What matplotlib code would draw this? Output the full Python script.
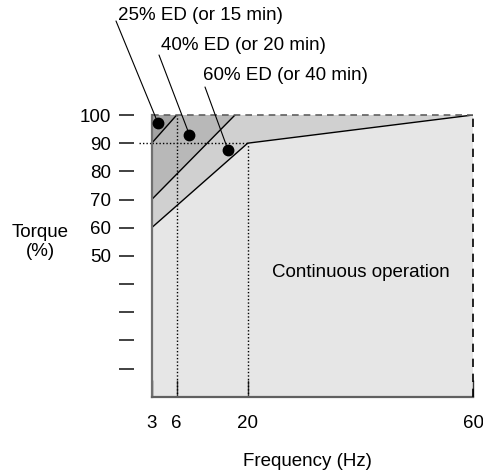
import matplotlib
matplotlib.use("Agg")
import matplotlib.pyplot as plt
import numpy as np
from matplotlib.scale import FuncScale

plt.rcParams['font.family'] = ['Liberation Sans', 'DejaVu Sans']
plt.rcParams['font.size'] = 13.5

# frequency axis is not linear in the original, tick positions (Hz)
freq_ticks = [3, 6, 20, 60]
torque_ticks = [10, 20, 30, 40, 50, 60, 70, 80, 90, 100]
torque_labels = ['', '', '', '', '50', '60', '70', '80', '90', '100']

# region boundaries (Hz, %)
cont_x = [3, 3, 20, 60, 60]
cont_y = [0, 60, 90, 100, 0]
ed60_x = [3, 20, 60, 17.5, 3]
ed60_y = [60, 90, 100, 100, 70]
ed40_x = [3, 17.5, 6, 3]
ed40_y = [70, 100, 100, 90]
ed25_x = [3, 6, 3]
ed25_y = [90, 100, 100]

labels = ['25% ED (or 15 min)', '40% ED (or 20 min)', '60% ED (or 40 min)']
dot_x = [3.73, 8.5, 16.1]
dot_y = [97.3, 93.0, 87.7]

# piecewise mapping of the frequency axis
hz_pts = np.array([3, 6, 20, 60])
pos_pts = np.array([0.0, 25.0, 96.0, 321.3])


def fwd(x):
    return np.interp(x, hz_pts, pos_pts)


def inv(p):
    return np.interp(p, pos_pts, hz_pts)


W, H = 483, 473
fig = plt.figure(figsize=(W / 100, H / 100), dpi=100)
ax = fig.add_axes([151.7 / W, 1 - 396.7 / H, 321.3 / W, 281.7 / H])
ax.set_xscale(FuncScale(ax, (fwd, inv)))
ax.set_xlim(3, 60)
ax.set_ylim(0, 100)

ax.fill(cont_x, cont_y, color='#e6e6e6', lw=0)
ax.fill(ed60_x, ed60_y, color='#d0d0d0', lw=0)
ax.fill(ed40_x, ed40_y, color='#b8b8b8', lw=0)
ax.fill(ed25_x, ed25_y, color='#a3a3a3', lw=0)

# boundaries
ax.plot([3, 20, 60], [60, 90, 100], color='black', lw=1)
ax.plot([3, 17.5], [70, 100], color='black', lw=1)
ax.plot([3, 6], [90, 100], color='black', lw=1)

# dotted guides
ax.plot([3, 20], [90, 90], color='black', lw=1, ls=(0, (1, 1.5)))
ax.plot([-0.04, 0], [90, 90], color='black', lw=1, ls=(0, (1, 1.5)),
        transform=ax.get_yaxis_transform(), clip_on=False)
ax.plot([6, 6], [0, 100], color='black', lw=1, ls=(0, (1, 1.5)))
ax.plot([20, 20], [0, 90], color='black', lw=1, ls=(0, (1, 1.5)))

# frame
for s in ax.spines.values():
    s.set_visible(False)
ax.plot([3, 3], [0, 100], color='#707070', lw=1.6, clip_on=False)
ax.plot([3, 60], [0, 0], color='#606060', lw=1.6, clip_on=False)
ax.plot([3, 60], [100, 100], color='#606060', lw=1.2, ls=(0, (4, 3)), clip_on=False)
ax.plot([60, 60], [0, 100], color='black', lw=1.2, ls=(0, (5, 4)), clip_on=False)

ax.spines['left'].set_position(('outward', 13))
ax.set_yticks(torque_ticks)
ax.set_yticklabels(torque_labels)
ax.tick_params(axis='y', direction='out', length=11, width=1.3, color='#333333', pad=5)
ax.set_xticks(freq_ticks)
ax.set_xticklabels([str(v) for v in freq_ticks])
ax.tick_params(axis='x', direction='in', length=12, width=1.0, color='#333333', pad=13)

# dots with leader lines
text_pos = [(118, 15), (161, 45), (203, 75)]
line_ends = [(116, 21), (159, 55), (205, 87)]
for i in range(3):
    ax.plot(dot_x[i], dot_y[i], 'o', color='black', ms=7.5)
    ex, ey = line_ends[i]
    ax.annotate('', xy=(dot_x[i], dot_y[i]), xycoords='data',
                xytext=(ex, H - ey), textcoords='figure pixels',
                arrowprops=dict(arrowstyle='-', color='black', lw=0.8,
                                shrinkA=0, shrinkB=0))
    tx, ty = text_pos[i]
    fig.text(tx / W, 1 - ty / H, labels[i], ha='left', va='center')

ax.text(0.65, 0.44, 'Continuous operation', transform=ax.transAxes,
        ha='center', va='center')
fig.text(40 / W, 1 - 242 / H, 'Torque\n(%)', ha='center', va='center',
         linespacing=1.2)
fig.text(307 / W, 1 - 461 / H, 'Frequency (Hz)', ha='center', va='center')

fig.savefig('out.png', dpi=100)
